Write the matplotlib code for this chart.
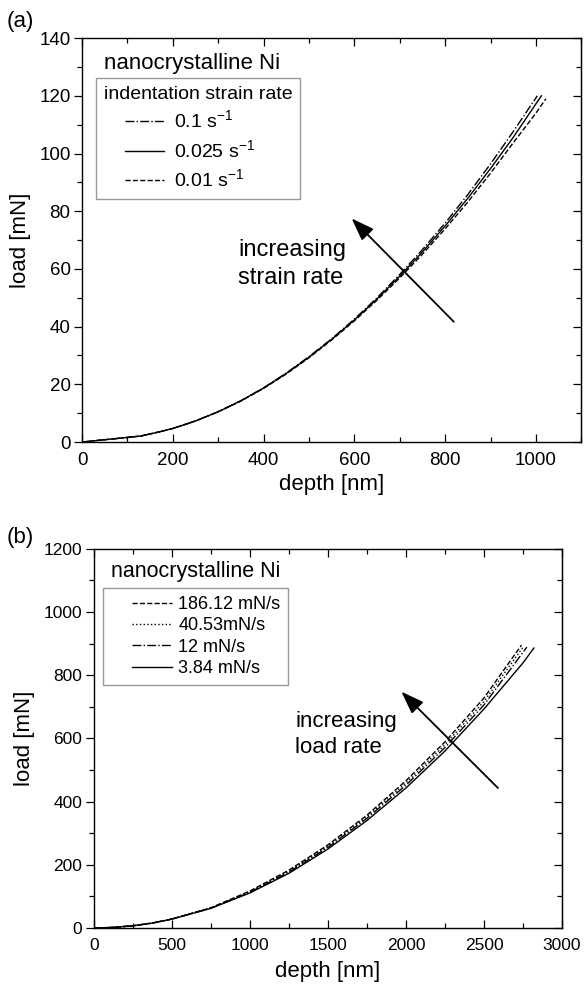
import matplotlib
matplotlib.use("Agg")
import matplotlib.pyplot as plt
from matplotlib.ticker import MultipleLocator
from matplotlib.lines import Line2D
from matplotlib.legend_handler import HandlerLine2D

plt.rcParams['font.family'] = ['Liberation Sans', 'DejaVu Sans']
plt.rcParams['mathtext.fontset'] = 'custom'
plt.rcParams['mathtext.rm'] = 'Liberation Sans'

# (a) load-depth curves at different indentation strain rates
strain_labels = ['0.1 s$^{-1}$', '0.025 s$^{-1}$', '0.01 s$^{-1}$']
strain_styles = ['-.', '-', '--']
depth_a = [
    [0, 25, 50, 75, 100, 130, 150, 175, 200, 250, 300, 350, 400, 450, 500,
     550, 600, 650, 700, 750, 800, 850, 900, 950, 1003],
    [0, 25, 50, 75, 100, 130, 150, 175, 200, 250, 300, 350, 400, 450, 500,
     550, 600, 650, 700, 750, 800, 850, 900, 950, 1012],
    [0, 25, 50, 75, 100, 130, 150, 175, 200, 250, 300, 350, 400, 450, 500,
     550, 600, 650, 700, 750, 800, 850, 900, 950, 1000, 1022],
]
load_a = [
    [0, 0.4, 0.8, 1.2, 1.6, 2.1, 2.8, 3.7, 4.7, 7.3, 10.5, 14.3, 18.8, 23.9, 29.6,
     35.8, 42.6, 50.0, 58.1, 66.7, 75.9, 85.8, 96.4, 107.6, 120.0],
    [0, 0.4, 0.8, 1.2, 1.6, 2.1, 2.8, 3.7, 4.7, 7.3, 10.5, 14.3, 18.7, 23.8, 29.4,
     35.6, 42.3, 49.6, 57.5, 65.9, 74.9, 84.5, 94.8, 105.6, 120.0],
    [0, 0.4, 0.8, 1.2, 1.6, 2.1, 2.8, 3.7, 4.7, 7.3, 10.5, 14.2, 18.6, 23.6, 29.2,
     35.4, 42.0, 49.2, 56.9, 65.1, 73.9, 83.2, 93.2, 103.7, 114.0, 119.0],
]

# (b) load-depth curves at different loading rates
rate_labels = ['186.12 mN/s', '40.53mN/s', '12 mN/s', '3.84 mN/s']
rate_styles = ['--', ':', '-.', '-']
depth_b = [
    [0, 125, 250, 375, 500, 750, 1000, 1250, 1500, 1750, 2000, 2250, 2500, 2740],
    [0, 125, 250, 375, 500, 750, 1000, 1250, 1500, 1750, 2000, 2250, 2500, 2755],
    [0, 125, 250, 375, 500, 750, 1000, 1250, 1500, 1750, 2000, 2250, 2500, 2775],
    [0, 125, 250, 375, 500, 750, 1000, 1250, 1500, 1750, 2000, 2250, 2500, 2750, 2820],
]
load_b = [
    [0, 2, 7, 15.8, 28.5, 64, 117, 183, 263, 357, 466, 589, 728, 895],
    [0, 2, 7, 15.8, 28.5, 63.5, 115, 180, 259, 352, 459, 580, 717, 892],
    [0, 2, 7, 15.7, 28.3, 63, 113, 177, 255, 347, 452, 571, 706, 889],
    [0, 2, 7, 15.6, 28, 62, 111, 173, 250, 340, 443, 560, 693, 839, 886],
]

fig = plt.figure(figsize=(5.86, 9.9), dpi=100)
ax1 = fig.add_axes([0.140, 0.5535, 0.852, 0.408])
ax2 = fig.add_axes([0.160, 0.0626, 0.799, 0.383])


def style_axes(ax, xmaj, xmin, ymaj, ymin, size):
    ax.xaxis.set_major_locator(MultipleLocator(xmaj))
    ax.xaxis.set_minor_locator(MultipleLocator(xmin))
    ax.yaxis.set_major_locator(MultipleLocator(ymaj))
    ax.yaxis.set_minor_locator(MultipleLocator(ymin))
    ax.tick_params(axis='x', which='both', direction='in', top=True,
                   labelsize=size, pad=7)
    ax.tick_params(axis='y', which='both', direction='out', right=False,
                   labelsize=size, pad=2.5)
    ax.tick_params(which='major', length=5.8, width=0.9)
    ax.tick_params(which='minor', length=3.6, width=0.9)
    # right-hand ticks point inwards
    sec = ax.secondary_yaxis('right')
    sec.yaxis.set_major_locator(MultipleLocator(ymaj))
    sec.yaxis.set_minor_locator(MultipleLocator(ymin))
    sec.tick_params(which='both', direction='in', labelright=False)
    sec.tick_params(which='major', length=5.8, width=0.9)
    sec.tick_params(which='minor', length=3.6, width=0.9)
    for s in ax.spines.values():
        s.set_linewidth(1.0)


arrow_style = dict(arrowstyle='-|>,head_length=1.4,head_width=0.5',
                   color='black', lw=1.3, shrinkA=0, shrinkB=0)

# ---- panel (a)
for d, l, ls, lab in zip(depth_a, load_a, strain_styles, strain_labels):
    ax1.plot(d, l, ls, color='black', lw=1.0, label=lab)
ax1.set_xlim(0, 1100)
ax1.set_ylim(0, 140)
style_axes(ax1, 200, 100, 20, 10, 13.5)
ax1.set_xlabel('depth [nm]', fontsize=16, labelpad=4)
ax1.set_ylabel('load [mN]', fontsize=16, labelpad=6)
ax1.text(48, 131.3, 'nanocrystalline Ni', fontsize=16, va='center')
leg = ax1.legend(title='indentation strain rate', loc='upper left',
                 bbox_to_anchor=(0.028, 0.901), borderaxespad=0,
                 fontsize=14, title_fontsize=14,
                 alignment='left', fancybox=False, edgecolor='gray',
                 handlelength=3.1, handletextpad=0.5, borderpad=0.4,
                 labelspacing=0.35,
                 handler_map={Line2D: HandlerLine2D(xpad=1.08)})
leg.get_frame().set_linewidth(1.0)
ax1.annotate('', xy=(594, 77.5), xytext=(819, 41.7), arrowprops=arrow_style)
ax1.text(344, 66.5, 'increasing', fontsize=17, va='center')
ax1.text(344, 56.8, 'strain rate', fontsize=17, va='center')
fig.text(0.012, 0.978, '(a)', fontsize=16, va='center')

# ---- panel (b)
for d, l, ls, lab in zip(depth_b, load_b, rate_styles, rate_labels):
    ax2.plot(d, l, ls, color='black', lw=1.0, label=lab)
ax2.set_xlim(0, 3000)
ax2.set_ylim(0, 1200)
style_axes(ax2, 500, 250, 200, 100, 12.5)
ax2.set_xlabel('depth [nm]', fontsize=16, labelpad=6)
ax2.set_ylabel('load [mN]', fontsize=16, labelpad=6)
ax2.text(109, 1127, 'nanocrystalline Ni', fontsize=15.5, va='center')
leg2 = ax2.legend(loc='upper left', bbox_to_anchor=(0.019, 0.897),
                  borderaxespad=0, fontsize=13,
                  fancybox=False, edgecolor='gray', handlelength=3.4,
                  handletextpad=0.33, borderpad=0.45, labelspacing=0.24,
                  handler_map={Line2D: HandlerLine2D(xpad=1.2)})
leg2.get_frame().set_linewidth(1.0)
ax2.annotate('', xy=(1971, 748), xytext=(2590, 443), arrowprops=arrow_style)
ax2.text(1292, 655, 'increasing', fontsize=16, va='center')
ax2.text(1292, 570, 'load rate', fontsize=16, va='center')
fig.text(0.012, 0.4566, '(b)', fontsize=16, va='center')

fig.savefig('out.png', dpi=100)
